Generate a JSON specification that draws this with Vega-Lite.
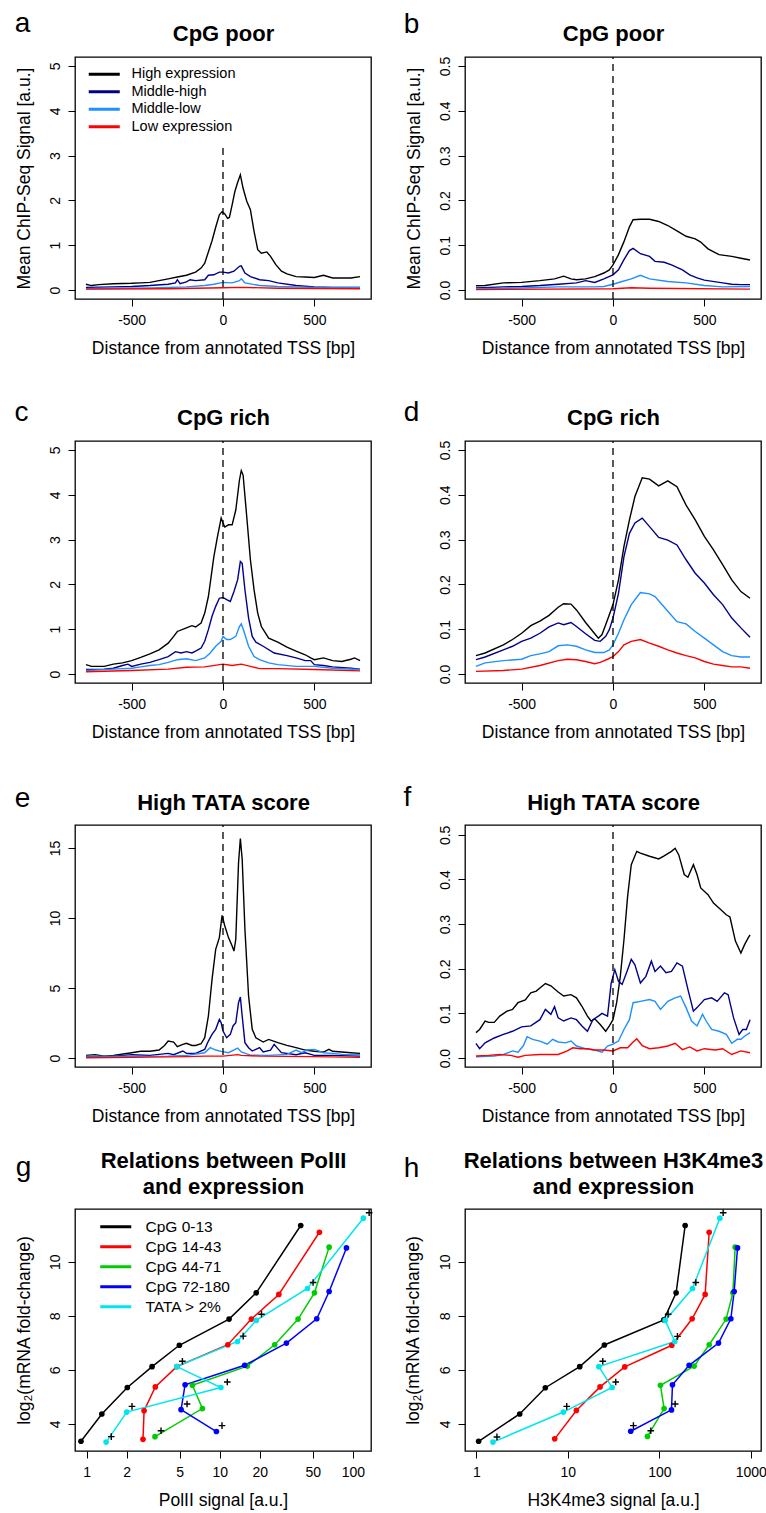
{
"$schema": "https://vega.github.io/schema/vega-lite/v6.json",
"padding": {"left": 13, "top": 8, "right": 0, "bottom": 0},
"config": {
 "font": "Liberation Sans",
 "view": {"stroke": "black", "strokeWidth": 1.3},
 "axis": {"domain": false, "grid": false, "tickColor": "black", "tickSize": 7, "tickWidth": 1, "labelColor": "black", "labelFontSize": 14, "labelFont": "Liberation Sans", "labelPadding": 7.5, "labelFlush": false, "labelOverlap": false, "labelBound": false, "titleColor": "black", "titleFont": "Liberation Sans", "titleFontSize": 17.5, "titleFontWeight": "normal"},
 "axisY": {"labelAngle": -90, "labelAlign": "center", "labelBaseline": "bottom", "labelPadding": 6},
 "legend": {"labelColor": "black", "labelFont": "Liberation Sans"}
},
"datasets": {
 "tss": [{"tss": 0}],
 "a": [
  {"s":"High expression","x":-750,"y":0.13},{"s":"High expression","x":-720,"y":0.1},{"s":"High expression","x":-680,"y":0.12},{"s":"High expression","x":-600,"y":0.14},{"s":"High expression","x":-500,"y":0.15},{"s":"High expression","x":-450,"y":0.16},{"s":"High expression","x":-400,"y":0.17},{"s":"High expression","x":-350,"y":0.21},{"s":"High expression","x":-300,"y":0.25},{"s":"High expression","x":-250,"y":0.29},{"s":"High expression","x":-200,"y":0.33},{"s":"High expression","x":-150,"y":0.4},{"s":"High expression","x":-120,"y":0.49},{"s":"High expression","x":-100,"y":0.6},{"s":"High expression","x":-80,"y":0.85},{"s":"High expression","x":-60,"y":1.1},{"s":"High expression","x":-40,"y":1.4},{"s":"High expression","x":-20,"y":1.68},{"s":"High expression","x":-5,"y":1.75},{"s":"High expression","x":10,"y":1.7},{"s":"High expression","x":25,"y":1.6},{"s":"High expression","x":35,"y":1.62},{"s":"High expression","x":50,"y":1.9},{"s":"High expression","x":65,"y":2.2},{"s":"High expression","x":80,"y":2.4},{"s":"High expression","x":95,"y":2.57},{"s":"High expression","x":110,"y":2.27},{"s":"High expression","x":130,"y":1.98},{"s":"High expression","x":150,"y":1.79},{"s":"High expression","x":170,"y":1.31},{"s":"High expression","x":190,"y":0.9},{"s":"High expression","x":210,"y":0.82},{"s":"High expression","x":240,"y":0.85},{"s":"High expression","x":260,"y":0.75},{"s":"High expression","x":290,"y":0.56},{"s":"High expression","x":320,"y":0.42},{"s":"High expression","x":350,"y":0.36},{"s":"High expression","x":400,"y":0.3},{"s":"High expression","x":450,"y":0.29},{"s":"High expression","x":500,"y":0.28},{"s":"High expression","x":550,"y":0.33},{"s":"High expression","x":600,"y":0.27},{"s":"High expression","x":650,"y":0.27},{"s":"High expression","x":700,"y":0.27},{"s":"High expression","x":750,"y":0.3},
  {"s":"Middle-high","x":-750,"y":0.06},{"s":"Middle-high","x":-600,"y":0.07},{"s":"Middle-high","x":-500,"y":0.08},{"s":"Middle-high","x":-400,"y":0.1},{"s":"Middle-high","x":-300,"y":0.13},{"s":"Middle-high","x":-260,"y":0.16},{"s":"Middle-high","x":-250,"y":0.23},{"s":"Middle-high","x":-235,"y":0.14},{"s":"Middle-high","x":-200,"y":0.18},{"s":"Middle-high","x":-180,"y":0.23},{"s":"Middle-high","x":-150,"y":0.21},{"s":"Middle-high","x":-100,"y":0.23},{"s":"Middle-high","x":-80,"y":0.33},{"s":"Middle-high","x":-50,"y":0.34},{"s":"Middle-high","x":-20,"y":0.4},{"s":"Middle-high","x":0,"y":0.4},{"s":"Middle-high","x":30,"y":0.38},{"s":"Middle-high","x":60,"y":0.42},{"s":"Middle-high","x":90,"y":0.53},{"s":"Middle-high","x":100,"y":0.54},{"s":"Middle-high","x":120,"y":0.38},{"s":"Middle-high","x":150,"y":0.3},{"s":"Middle-high","x":200,"y":0.23},{"s":"Middle-high","x":250,"y":0.21},{"s":"Middle-high","x":300,"y":0.16},{"s":"Middle-high","x":400,"y":0.1},{"s":"Middle-high","x":500,"y":0.07},{"s":"Middle-high","x":600,"y":0.06},{"s":"Middle-high","x":750,"y":0.06},
  {"s":"Middle-low","x":-750,"y":0.03},{"s":"Middle-low","x":-400,"y":0.045},{"s":"Middle-low","x":-200,"y":0.07},{"s":"Middle-low","x":-100,"y":0.1},{"s":"Middle-low","x":-50,"y":0.13},{"s":"Middle-low","x":0,"y":0.17},{"s":"Middle-low","x":50,"y":0.16},{"s":"Middle-low","x":90,"y":0.21},{"s":"Middle-low","x":100,"y":0.25},{"s":"Middle-low","x":120,"y":0.16},{"s":"Middle-low","x":200,"y":0.1},{"s":"Middle-low","x":300,"y":0.08},{"s":"Middle-low","x":500,"y":0.06},{"s":"Middle-low","x":750,"y":0.06},
  {"s":"Low expression","x":-750,"y":0.02},{"s":"Low expression","x":-300,"y":0.03},{"s":"Low expression","x":0,"y":0.05},{"s":"Low expression","x":100,"y":0.06},{"s":"Low expression","x":300,"y":0.04},{"s":"Low expression","x":750,"y":0.03}
 ],
 "b": [
  {"s":"High expression","x":-750,"y":0.0097},{"s":"High expression","x":-700,"y":0.01},{"s":"High expression","x":-600,"y":0.016},{"s":"High expression","x":-500,"y":0.017},{"s":"High expression","x":-400,"y":0.021},{"s":"High expression","x":-320,"y":0.025},{"s":"High expression","x":-270,"y":0.031},{"s":"High expression","x":-230,"y":0.025},{"s":"High expression","x":-200,"y":0.023},{"s":"High expression","x":-150,"y":0.025},{"s":"High expression","x":-100,"y":0.03},{"s":"High expression","x":-50,"y":0.038},{"s":"High expression","x":-20,"y":0.045},{"s":"High expression","x":0,"y":0.056},{"s":"High expression","x":30,"y":0.079},{"s":"High expression","x":60,"y":0.108},{"s":"High expression","x":90,"y":0.141},{"s":"High expression","x":110,"y":0.157},{"s":"High expression","x":150,"y":0.158},{"s":"High expression","x":200,"y":0.158},{"s":"High expression","x":250,"y":0.153},{"s":"High expression","x":300,"y":0.144},{"s":"High expression","x":350,"y":0.132},{"s":"High expression","x":400,"y":0.12},{"s":"High expression","x":450,"y":0.114},{"s":"High expression","x":480,"y":0.107},{"s":"High expression","x":520,"y":0.092},{"s":"High expression","x":580,"y":0.079},{"s":"High expression","x":650,"y":0.075},{"s":"High expression","x":700,"y":0.071},{"s":"High expression","x":750,"y":0.067},
  {"s":"Middle-high","x":-750,"y":0.0045},{"s":"Middle-high","x":-600,"y":0.007},{"s":"Middle-high","x":-500,"y":0.008},{"s":"Middle-high","x":-400,"y":0.01},{"s":"Middle-high","x":-300,"y":0.013},{"s":"Middle-high","x":-200,"y":0.016},{"s":"Middle-high","x":-150,"y":0.021},{"s":"Middle-high","x":-100,"y":0.017},{"s":"Middle-high","x":-50,"y":0.025},{"s":"Middle-high","x":0,"y":0.034},{"s":"Middle-high","x":30,"y":0.045},{"s":"Middle-high","x":60,"y":0.068},{"s":"Middle-high","x":90,"y":0.088},{"s":"Middle-high","x":110,"y":0.093},{"s":"Middle-high","x":150,"y":0.081},{"s":"Middle-high","x":200,"y":0.075},{"s":"Middle-high","x":230,"y":0.064},{"s":"Middle-high","x":280,"y":0.062},{"s":"Middle-high","x":320,"y":0.056},{"s":"Middle-high","x":380,"y":0.045},{"s":"Middle-high","x":420,"y":0.034},{"s":"Middle-high","x":460,"y":0.027},{"s":"Middle-high","x":500,"y":0.022},{"s":"Middle-high","x":600,"y":0.016},{"s":"Middle-high","x":650,"y":0.013},{"s":"Middle-high","x":700,"y":0.012},{"s":"Middle-high","x":750,"y":0.012},
  {"s":"Middle-low","x":-750,"y":0.003},{"s":"Middle-low","x":-500,"y":0.0045},{"s":"Middle-low","x":-300,"y":0.007},{"s":"Middle-low","x":-100,"y":0.007},{"s":"Middle-low","x":-50,"y":0.008},{"s":"Middle-low","x":0,"y":0.013},{"s":"Middle-low","x":50,"y":0.019},{"s":"Middle-low","x":100,"y":0.025},{"s":"Middle-low","x":150,"y":0.033},{"s":"Middle-low","x":200,"y":0.025},{"s":"Middle-low","x":300,"y":0.019},{"s":"Middle-low","x":400,"y":0.016},{"s":"Middle-low","x":500,"y":0.01},{"s":"Middle-low","x":600,"y":0.007},{"s":"Middle-low","x":750,"y":0.008},
  {"s":"Low expression","x":-750,"y":0.001},{"s":"Low expression","x":0,"y":0.003},{"s":"Low expression","x":100,"y":0.005},{"s":"Low expression","x":200,"y":0.004},{"s":"Low expression","x":750,"y":0.002}
 ],
 "c": [
  {"s":"High expression","x":-750,"y":0.21},{"s":"High expression","x":-720,"y":0.17},{"s":"High expression","x":-650,"y":0.17},{"s":"High expression","x":-600,"y":0.22},{"s":"High expression","x":-550,"y":0.25},{"s":"High expression","x":-500,"y":0.3},{"s":"High expression","x":-450,"y":0.37},{"s":"High expression","x":-400,"y":0.45},{"s":"High expression","x":-350,"y":0.54},{"s":"High expression","x":-300,"y":0.69},{"s":"High expression","x":-270,"y":0.84},{"s":"High expression","x":-250,"y":0.95},{"s":"High expression","x":-200,"y":1.03},{"s":"High expression","x":-170,"y":1.08},{"s":"High expression","x":-150,"y":1.05},{"s":"High expression","x":-120,"y":1.14},{"s":"High expression","x":-100,"y":1.36},{"s":"High expression","x":-80,"y":1.73},{"s":"High expression","x":-50,"y":2.62},{"s":"High expression","x":-30,"y":3.07},{"s":"High expression","x":-10,"y":3.48},{"s":"High expression","x":0,"y":3.37},{"s":"High expression","x":10,"y":3.28},{"s":"High expression","x":30,"y":3.33},{"s":"High expression","x":50,"y":3.33},{"s":"High expression","x":70,"y":3.66},{"s":"High expression","x":90,"y":4.33},{"s":"High expression","x":100,"y":4.54},{"s":"High expression","x":110,"y":4.44},{"s":"High expression","x":130,"y":3.51},{"s":"High expression","x":150,"y":2.55},{"s":"High expression","x":170,"y":1.88},{"s":"High expression","x":190,"y":1.36},{"s":"High expression","x":210,"y":1.06},{"s":"High expression","x":250,"y":0.8},{"s":"High expression","x":300,"y":0.71},{"s":"High expression","x":350,"y":0.6},{"s":"High expression","x":400,"y":0.51},{"s":"High expression","x":450,"y":0.43},{"s":"High expression","x":480,"y":0.36},{"s":"High expression","x":500,"y":0.32},{"s":"High expression","x":550,"y":0.36},{"s":"High expression","x":600,"y":0.3},{"s":"High expression","x":650,"y":0.28},{"s":"High expression","x":700,"y":0.33},{"s":"High expression","x":720,"y":0.36},{"s":"High expression","x":750,"y":0.3},
  {"s":"Middle-high","x":-750,"y":0.1},{"s":"Middle-high","x":-650,"y":0.11},{"s":"Middle-high","x":-600,"y":0.13},{"s":"Middle-high","x":-550,"y":0.19},{"s":"Middle-high","x":-520,"y":0.22},{"s":"Middle-high","x":-500,"y":0.17},{"s":"Middle-high","x":-450,"y":0.22},{"s":"Middle-high","x":-400,"y":0.26},{"s":"Middle-high","x":-350,"y":0.32},{"s":"Middle-high","x":-300,"y":0.39},{"s":"Middle-high","x":-260,"y":0.5},{"s":"Middle-high","x":-230,"y":0.47},{"s":"Middle-high","x":-200,"y":0.5},{"s":"Middle-high","x":-170,"y":0.47},{"s":"Middle-high","x":-150,"y":0.51},{"s":"Middle-high","x":-120,"y":0.58},{"s":"Middle-high","x":-100,"y":0.73},{"s":"Middle-high","x":-80,"y":0.99},{"s":"Middle-high","x":-60,"y":1.29},{"s":"Middle-high","x":-40,"y":1.51},{"s":"Middle-high","x":-20,"y":1.69},{"s":"Middle-high","x":0,"y":1.71},{"s":"Middle-high","x":20,"y":1.66},{"s":"Middle-high","x":40,"y":1.62},{"s":"Middle-high","x":60,"y":1.84},{"s":"Middle-high","x":80,"y":2.1},{"s":"Middle-high","x":95,"y":2.51},{"s":"Middle-high","x":105,"y":2.47},{"s":"Middle-high","x":120,"y":1.88},{"s":"Middle-high","x":140,"y":1.25},{"s":"Middle-high","x":160,"y":0.84},{"s":"Middle-high","x":180,"y":0.71},{"s":"Middle-high","x":220,"y":0.62},{"s":"Middle-high","x":280,"y":0.47},{"s":"Middle-high","x":350,"y":0.41},{"s":"Middle-high","x":400,"y":0.36},{"s":"Middle-high","x":450,"y":0.3},{"s":"Middle-high","x":480,"y":0.3},{"s":"Middle-high","x":500,"y":0.21},{"s":"Middle-high","x":550,"y":0.19},{"s":"Middle-high","x":600,"y":0.16},{"s":"Middle-high","x":700,"y":0.13},{"s":"Middle-high","x":750,"y":0.11},
  {"s":"Middle-low","x":-750,"y":0.08},{"s":"Middle-low","x":-600,"y":0.11},{"s":"Middle-low","x":-500,"y":0.13},{"s":"Middle-low","x":-450,"y":0.16},{"s":"Middle-low","x":-400,"y":0.19},{"s":"Middle-low","x":-350,"y":0.21},{"s":"Middle-low","x":-300,"y":0.26},{"s":"Middle-low","x":-250,"y":0.32},{"s":"Middle-low","x":-200,"y":0.34},{"s":"Middle-low","x":-150,"y":0.3},{"s":"Middle-low","x":-100,"y":0.36},{"s":"Middle-low","x":-70,"y":0.47},{"s":"Middle-low","x":-40,"y":0.62},{"s":"Middle-low","x":-10,"y":0.73},{"s":"Middle-low","x":0,"y":0.84},{"s":"Middle-low","x":20,"y":0.77},{"s":"Middle-low","x":40,"y":0.77},{"s":"Middle-low","x":70,"y":0.84},{"s":"Middle-low","x":90,"y":1.06},{"s":"Middle-low","x":100,"y":1.12},{"s":"Middle-low","x":115,"y":0.95},{"s":"Middle-low","x":140,"y":0.62},{"s":"Middle-low","x":170,"y":0.39},{"s":"Middle-low","x":200,"y":0.32},{"s":"Middle-low","x":250,"y":0.25},{"s":"Middle-low","x":300,"y":0.21},{"s":"Middle-low","x":400,"y":0.17},{"s":"Middle-low","x":500,"y":0.17},{"s":"Middle-low","x":600,"y":0.13},{"s":"Middle-low","x":750,"y":0.1},
  {"s":"Low expression","x":-750,"y":0.05},{"s":"Low expression","x":-500,"y":0.08},{"s":"Low expression","x":-300,"y":0.11},{"s":"Low expression","x":-200,"y":0.15},{"s":"Low expression","x":-100,"y":0.16},{"s":"Low expression","x":0,"y":0.22},{"s":"Low expression","x":50,"y":0.19},{"s":"Low expression","x":100,"y":0.22},{"s":"Low expression","x":150,"y":0.17},{"s":"Low expression","x":200,"y":0.12},{"s":"Low expression","x":300,"y":0.12},{"s":"Low expression","x":500,"y":0.1},{"s":"Low expression","x":750,"y":0.07}
 ],
 "d": [
  {"s":"High expression","x":-750,"y":0.041},{"s":"High expression","x":-700,"y":0.047},{"s":"High expression","x":-600,"y":0.065},{"s":"High expression","x":-550,"y":0.077},{"s":"High expression","x":-500,"y":0.091},{"s":"High expression","x":-450,"y":0.108},{"s":"High expression","x":-400,"y":0.118},{"s":"High expression","x":-350,"y":0.131},{"s":"High expression","x":-300,"y":0.149},{"s":"High expression","x":-270,"y":0.157},{"s":"High expression","x":-230,"y":0.156},{"s":"High expression","x":-200,"y":0.143},{"s":"High expression","x":-150,"y":0.115},{"s":"High expression","x":-100,"y":0.09},{"s":"High expression","x":-80,"y":0.08},{"s":"High expression","x":-60,"y":0.088},{"s":"High expression","x":-30,"y":0.121},{"s":"High expression","x":0,"y":0.155},{"s":"High expression","x":30,"y":0.21},{"s":"High expression","x":60,"y":0.285},{"s":"High expression","x":90,"y":0.344},{"s":"High expression","x":120,"y":0.396},{"s":"High expression","x":160,"y":0.438},{"s":"High expression","x":200,"y":0.435},{"s":"High expression","x":250,"y":0.42},{"s":"High expression","x":300,"y":0.431},{"s":"High expression","x":350,"y":0.418},{"s":"High expression","x":400,"y":0.377},{"s":"High expression","x":450,"y":0.344},{"s":"High expression","x":500,"y":0.307},{"s":"High expression","x":550,"y":0.277},{"s":"High expression","x":600,"y":0.244},{"s":"High expression","x":650,"y":0.21},{"s":"High expression","x":700,"y":0.184},{"s":"High expression","x":750,"y":0.169},
  {"s":"Middle-high","x":-750,"y":0.032},{"s":"Middle-high","x":-700,"y":0.038},{"s":"Middle-high","x":-600,"y":0.054},{"s":"Middle-high","x":-550,"y":0.062},{"s":"Middle-high","x":-500,"y":0.073},{"s":"Middle-high","x":-450,"y":0.08},{"s":"Middle-high","x":-400,"y":0.091},{"s":"Middle-high","x":-350,"y":0.105},{"s":"Middle-high","x":-300,"y":0.114},{"s":"Middle-high","x":-270,"y":0.11},{"s":"Middle-high","x":-230,"y":0.115},{"s":"Middle-high","x":-200,"y":0.106},{"s":"Middle-high","x":-150,"y":0.09},{"s":"Middle-high","x":-100,"y":0.075},{"s":"Middle-high","x":-70,"y":0.073},{"s":"Middle-high","x":-40,"y":0.084},{"s":"Middle-high","x":-20,"y":0.099},{"s":"Middle-high","x":0,"y":0.125},{"s":"Middle-high","x":30,"y":0.18},{"s":"Middle-high","x":60,"y":0.262},{"s":"Middle-high","x":90,"y":0.314},{"s":"Middle-high","x":120,"y":0.337},{"s":"Middle-high","x":160,"y":0.348},{"s":"Middle-high","x":200,"y":0.329},{"s":"Middle-high","x":250,"y":0.305},{"s":"Middle-high","x":300,"y":0.299},{"s":"Middle-high","x":350,"y":0.288},{"s":"Middle-high","x":400,"y":0.255},{"s":"Middle-high","x":450,"y":0.225},{"s":"Middle-high","x":500,"y":0.203},{"s":"Middle-high","x":550,"y":0.177},{"s":"Middle-high","x":600,"y":0.155},{"s":"Middle-high","x":650,"y":0.125},{"s":"Middle-high","x":700,"y":0.103},{"s":"Middle-high","x":750,"y":0.082},
  {"s":"Middle-low","x":-750,"y":0.017},{"s":"Middle-low","x":-700,"y":0.025},{"s":"Middle-low","x":-600,"y":0.03},{"s":"Middle-low","x":-500,"y":0.033},{"s":"Middle-low","x":-450,"y":0.041},{"s":"Middle-low","x":-400,"y":0.045},{"s":"Middle-low","x":-350,"y":0.05},{"s":"Middle-low","x":-300,"y":0.063},{"s":"Middle-low","x":-250,"y":0.065},{"s":"Middle-low","x":-200,"y":0.062},{"s":"Middle-low","x":-150,"y":0.054},{"s":"Middle-low","x":-100,"y":0.048},{"s":"Middle-low","x":-50,"y":0.048},{"s":"Middle-low","x":-20,"y":0.054},{"s":"Middle-low","x":0,"y":0.065},{"s":"Middle-low","x":30,"y":0.091},{"s":"Middle-low","x":60,"y":0.121},{"s":"Middle-low","x":100,"y":0.155},{"s":"Middle-low","x":150,"y":0.182},{"s":"Middle-low","x":200,"y":0.179},{"s":"Middle-low","x":230,"y":0.173},{"s":"Middle-low","x":300,"y":0.14},{"s":"Middle-low","x":350,"y":0.117},{"s":"Middle-low","x":400,"y":0.112},{"s":"Middle-low","x":450,"y":0.095},{"s":"Middle-low","x":500,"y":0.08},{"s":"Middle-low","x":550,"y":0.065},{"s":"Middle-low","x":600,"y":0.05},{"s":"Middle-low","x":650,"y":0.041},{"s":"Middle-low","x":700,"y":0.038},{"s":"Middle-low","x":750,"y":0.038},
  {"s":"Low expression","x":-750,"y":0.006},{"s":"Low expression","x":-600,"y":0.008},{"s":"Low expression","x":-500,"y":0.011},{"s":"Low expression","x":-400,"y":0.019},{"s":"Low expression","x":-300,"y":0.03},{"s":"Low expression","x":-250,"y":0.033},{"s":"Low expression","x":-200,"y":0.032},{"s":"Low expression","x":-150,"y":0.028},{"s":"Low expression","x":-100,"y":0.023},{"s":"Low expression","x":-70,"y":0.026},{"s":"Low expression","x":-30,"y":0.033},{"s":"Low expression","x":0,"y":0.039},{"s":"Low expression","x":30,"y":0.05},{"s":"Low expression","x":60,"y":0.065},{"s":"Low expression","x":100,"y":0.073},{"s":"Low expression","x":150,"y":0.077},{"s":"Low expression","x":200,"y":0.069},{"s":"Low expression","x":250,"y":0.062},{"s":"Low expression","x":300,"y":0.054},{"s":"Low expression","x":350,"y":0.047},{"s":"Low expression","x":400,"y":0.041},{"s":"Low expression","x":450,"y":0.036},{"s":"Low expression","x":500,"y":0.028},{"s":"Low expression","x":550,"y":0.022},{"s":"Low expression","x":600,"y":0.019},{"s":"Low expression","x":650,"y":0.016},{"s":"Low expression","x":700,"y":0.016},{"s":"Low expression","x":750,"y":0.013}
 ],
 "e": [
  {"s":"High expression","x":-750,"y":0.19},{"s":"High expression","x":-700,"y":0.24},{"s":"High expression","x":-650,"y":0.14},{"s":"High expression","x":-600,"y":0.19},{"s":"High expression","x":-500,"y":0.38},{"s":"High expression","x":-450,"y":0.48},{"s":"High expression","x":-400,"y":0.48},{"s":"High expression","x":-350,"y":0.57},{"s":"High expression","x":-320,"y":0.9},{"s":"High expression","x":-300,"y":1.21},{"s":"High expression","x":-270,"y":1.14},{"s":"High expression","x":-250,"y":0.81},{"s":"High expression","x":-220,"y":0.98},{"s":"High expression","x":-200,"y":1.05},{"s":"High expression","x":-170,"y":0.9},{"s":"High expression","x":-150,"y":0.9},{"s":"High expression","x":-120,"y":1.02},{"s":"High expression","x":-100,"y":1.45},{"s":"High expression","x":-80,"y":3.0},{"s":"High expression","x":-60,"y":5.62},{"s":"High expression","x":-40,"y":7.76},{"s":"High expression","x":-20,"y":8.6},{"s":"High expression","x":-5,"y":10.19},{"s":"High expression","x":10,"y":9.43},{"s":"High expression","x":30,"y":8.6},{"s":"High expression","x":50,"y":8.0},{"s":"High expression","x":60,"y":7.64},{"s":"High expression","x":70,"y":8.48},{"s":"High expression","x":85,"y":13.95},{"s":"High expression","x":95,"y":15.67},{"s":"High expression","x":105,"y":14.19},{"s":"High expression","x":120,"y":9.19},{"s":"High expression","x":140,"y":4.43},{"s":"High expression","x":160,"y":2.05},{"s":"High expression","x":180,"y":1.45},{"s":"High expression","x":220,"y":1.14},{"s":"High expression","x":250,"y":1.33},{"s":"High expression","x":300,"y":1.1},{"s":"High expression","x":350,"y":0.9},{"s":"High expression","x":400,"y":0.74},{"s":"High expression","x":450,"y":0.57},{"s":"High expression","x":500,"y":0.48},{"s":"High expression","x":550,"y":0.43},{"s":"High expression","x":580,"y":0.62},{"s":"High expression","x":600,"y":0.48},{"s":"High expression","x":700,"y":0.38},{"s":"High expression","x":750,"y":0.33},
  {"s":"Middle-high","x":-750,"y":0.1},{"s":"Middle-high","x":-600,"y":0.14},{"s":"Middle-high","x":-500,"y":0.24},{"s":"Middle-high","x":-400,"y":0.19},{"s":"Middle-high","x":-300,"y":0.33},{"s":"Middle-high","x":-270,"y":0.24},{"s":"Middle-high","x":-220,"y":0.5},{"s":"Middle-high","x":-200,"y":0.33},{"s":"Middle-high","x":-150,"y":0.33},{"s":"Middle-high","x":-100,"y":0.62},{"s":"Middle-high","x":-80,"y":1.21},{"s":"Middle-high","x":-60,"y":1.69},{"s":"Middle-high","x":-40,"y":2.05},{"s":"Middle-high","x":-20,"y":2.76},{"s":"Middle-high","x":-10,"y":2.52},{"s":"Middle-high","x":0,"y":1.93},{"s":"Middle-high","x":20,"y":1.45},{"s":"Middle-high","x":40,"y":1.69},{"s":"Middle-high","x":55,"y":2.29},{"s":"Middle-high","x":70,"y":2.52},{"s":"Middle-high","x":85,"y":3.95},{"s":"Middle-high","x":95,"y":4.36},{"s":"Middle-high","x":105,"y":3.0},{"s":"Middle-high","x":120,"y":1.1},{"s":"Middle-high","x":140,"y":0.74},{"s":"Middle-high","x":160,"y":0.5},{"s":"Middle-high","x":200,"y":0.74},{"s":"Middle-high","x":220,"y":0.43},{"s":"Middle-high","x":260,"y":0.57},{"s":"Middle-high","x":280,"y":0.98},{"s":"Middle-high","x":300,"y":0.67},{"s":"Middle-high","x":320,"y":0.38},{"s":"Middle-high","x":400,"y":0.24},{"s":"Middle-high","x":450,"y":0.38},{"s":"Middle-high","x":500,"y":0.19},{"s":"Middle-high","x":600,"y":0.19},{"s":"Middle-high","x":750,"y":0.14},
  {"s":"Middle-low","x":-750,"y":0.14},{"s":"Middle-low","x":-500,"y":0.12},{"s":"Middle-low","x":-300,"y":0.14},{"s":"Middle-low","x":-200,"y":0.19},{"s":"Middle-low","x":-100,"y":0.38},{"s":"Middle-low","x":-70,"y":0.74},{"s":"Middle-low","x":-40,"y":0.57},{"s":"Middle-low","x":-10,"y":0.48},{"s":"Middle-low","x":30,"y":0.38},{"s":"Middle-low","x":80,"y":0.71},{"s":"Middle-low","x":100,"y":0.43},{"s":"Middle-low","x":150,"y":0.21},{"s":"Middle-low","x":250,"y":0.19},{"s":"Middle-low","x":350,"y":0.26},{"s":"Middle-low","x":400,"y":0.57},{"s":"Middle-low","x":430,"y":0.38},{"s":"Middle-low","x":460,"y":0.57},{"s":"Middle-low","x":500,"y":0.62},{"s":"Middle-low","x":550,"y":0.38},{"s":"Middle-low","x":600,"y":0.33},{"s":"Middle-low","x":650,"y":0.26},{"s":"Middle-low","x":750,"y":0.24},
  {"s":"Low expression","x":-750,"y":0.02},{"s":"Low expression","x":-500,"y":0.05},{"s":"Low expression","x":-200,"y":0.1},{"s":"Low expression","x":-100,"y":0.14},{"s":"Low expression","x":0,"y":0.14},{"s":"Low expression","x":80,"y":0.24},{"s":"Low expression","x":100,"y":0.19},{"s":"Low expression","x":200,"y":0.14},{"s":"Low expression","x":500,"y":0.1},{"s":"Low expression","x":750,"y":0.05}
 ],
 "f": [
  {"s":"High expression","x":-750,"y":0.057},{"s":"High expression","x":-730,"y":0.064},{"s":"High expression","x":-700,"y":0.083},{"s":"High expression","x":-680,"y":0.08},{"s":"High expression","x":-650,"y":0.08},{"s":"High expression","x":-620,"y":0.094},{"s":"High expression","x":-580,"y":0.105},{"s":"High expression","x":-550,"y":0.109},{"s":"High expression","x":-520,"y":0.124},{"s":"High expression","x":-480,"y":0.13},{"s":"High expression","x":-450,"y":0.146},{"s":"High expression","x":-420,"y":0.15},{"s":"High expression","x":-400,"y":0.157},{"s":"High expression","x":-370,"y":0.167},{"s":"High expression","x":-340,"y":0.162},{"s":"High expression","x":-300,"y":0.148},{"s":"High expression","x":-270,"y":0.139},{"s":"High expression","x":-230,"y":0.142},{"s":"High expression","x":-200,"y":0.135},{"s":"High expression","x":-170,"y":0.116},{"s":"High expression","x":-140,"y":0.094},{"s":"High expression","x":-120,"y":0.083},{"s":"High expression","x":-100,"y":0.088},{"s":"High expression","x":-70,"y":0.075},{"s":"High expression","x":-40,"y":0.06},{"s":"High expression","x":-20,"y":0.072},{"s":"High expression","x":0,"y":0.086},{"s":"High expression","x":20,"y":0.124},{"s":"High expression","x":40,"y":0.183},{"s":"High expression","x":60,"y":0.265},{"s":"High expression","x":80,"y":0.362},{"s":"High expression","x":100,"y":0.433},{"s":"High expression","x":130,"y":0.463},{"s":"High expression","x":150,"y":0.459},{"s":"High expression","x":200,"y":0.452},{"s":"High expression","x":250,"y":0.446},{"s":"High expression","x":280,"y":0.453},{"s":"High expression","x":320,"y":0.463},{"s":"High expression","x":340,"y":0.47},{"s":"High expression","x":360,"y":0.455},{"s":"High expression","x":390,"y":0.411},{"s":"High expression","x":410,"y":0.405},{"s":"High expression","x":440,"y":0.433},{"s":"High expression","x":460,"y":0.411},{"s":"High expression","x":480,"y":0.381},{"s":"High expression","x":520,"y":0.366},{"s":"High expression","x":550,"y":0.347},{"s":"High expression","x":580,"y":0.336},{"s":"High expression","x":620,"y":0.321},{"s":"High expression","x":640,"y":0.316},{"s":"High expression","x":670,"y":0.262},{"s":"High expression","x":700,"y":0.235},{"s":"High expression","x":720,"y":0.254},{"s":"High expression","x":740,"y":0.269},{"s":"High expression","x":750,"y":0.276},
  {"s":"Middle-high","x":-750,"y":0.033},{"s":"Middle-high","x":-730,"y":0.021},{"s":"Middle-high","x":-700,"y":0.034},{"s":"Middle-high","x":-650,"y":0.045},{"s":"Middle-high","x":-600,"y":0.053},{"s":"Middle-high","x":-550,"y":0.06},{"s":"Middle-high","x":-500,"y":0.07},{"s":"Middle-high","x":-450,"y":0.072},{"s":"Middle-high","x":-400,"y":0.086},{"s":"Middle-high","x":-370,"y":0.109},{"s":"Middle-high","x":-340,"y":0.098},{"s":"Middle-high","x":-320,"y":0.115},{"s":"Middle-high","x":-300,"y":0.09},{"s":"Middle-high","x":-270,"y":0.083},{"s":"Middle-high","x":-230,"y":0.09},{"s":"Middle-high","x":-200,"y":0.086},{"s":"Middle-high","x":-170,"y":0.072},{"s":"Middle-high","x":-140,"y":0.06},{"s":"Middle-high","x":-110,"y":0.086},{"s":"Middle-high","x":-80,"y":0.094},{"s":"Middle-high","x":-60,"y":0.1},{"s":"Middle-high","x":-30,"y":0.094},{"s":"Middle-high","x":-10,"y":0.168},{"s":"Middle-high","x":10,"y":0.198},{"s":"Middle-high","x":30,"y":0.172},{"s":"Middle-high","x":50,"y":0.165},{"s":"Middle-high","x":80,"y":0.198},{"s":"Middle-high","x":100,"y":0.221},{"s":"Middle-high","x":120,"y":0.209},{"s":"Middle-high","x":150,"y":0.168},{"s":"Middle-high","x":180,"y":0.183},{"s":"Middle-high","x":210,"y":0.217},{"s":"Middle-high","x":230,"y":0.194},{"s":"Middle-high","x":260,"y":0.206},{"s":"Middle-high","x":290,"y":0.191},{"s":"Middle-high","x":320,"y":0.194},{"s":"Middle-high","x":350,"y":0.213},{"s":"Middle-high","x":380,"y":0.206},{"s":"Middle-high","x":410,"y":0.154},{"s":"Middle-high","x":440,"y":0.105},{"s":"Middle-high","x":460,"y":0.113},{"s":"Middle-high","x":500,"y":0.131},{"s":"Middle-high","x":540,"y":0.135},{"s":"Middle-high","x":570,"y":0.127},{"s":"Middle-high","x":610,"y":0.146},{"s":"Middle-high","x":630,"y":0.142},{"s":"Middle-high","x":660,"y":0.09},{"s":"Middle-high","x":690,"y":0.053},{"s":"Middle-high","x":710,"y":0.064},{"s":"Middle-high","x":730,"y":0.064},{"s":"Middle-high","x":750,"y":0.086},
  {"s":"Middle-low","x":-750,"y":0.003},{"s":"Middle-low","x":-650,"y":0.0045},{"s":"Middle-low","x":-600,"y":0.008},{"s":"Middle-low","x":-550,"y":0.016},{"s":"Middle-low","x":-520,"y":0.013},{"s":"Middle-low","x":-490,"y":0.028},{"s":"Middle-low","x":-470,"y":0.048},{"s":"Middle-low","x":-440,"y":0.042},{"s":"Middle-low","x":-400,"y":0.038},{"s":"Middle-low","x":-360,"y":0.031},{"s":"Middle-low","x":-330,"y":0.042},{"s":"Middle-low","x":-300,"y":0.036},{"s":"Middle-low","x":-260,"y":0.034},{"s":"Middle-low","x":-230,"y":0.038},{"s":"Middle-low","x":-200,"y":0.027},{"s":"Middle-low","x":-150,"y":0.021},{"s":"Middle-low","x":-100,"y":0.018},{"s":"Middle-low","x":-60,"y":0.013},{"s":"Middle-low","x":-30,"y":0.027},{"s":"Middle-low","x":0,"y":0.031},{"s":"Middle-low","x":30,"y":0.038},{"s":"Middle-low","x":60,"y":0.064},{"s":"Middle-low","x":90,"y":0.086},{"s":"Middle-low","x":110,"y":0.124},{"s":"Middle-low","x":150,"y":0.127},{"s":"Middle-low","x":200,"y":0.131},{"s":"Middle-low","x":230,"y":0.127},{"s":"Middle-low","x":260,"y":0.109},{"s":"Middle-low","x":300,"y":0.127},{"s":"Middle-low","x":340,"y":0.135},{"s":"Middle-low","x":370,"y":0.139},{"s":"Middle-low","x":400,"y":0.113},{"s":"Middle-low","x":430,"y":0.083},{"s":"Middle-low","x":460,"y":0.072},{"s":"Middle-low","x":490,"y":0.098},{"s":"Middle-low","x":510,"y":0.083},{"s":"Middle-low","x":540,"y":0.064},{"s":"Middle-low","x":580,"y":0.06},{"s":"Middle-low","x":620,"y":0.053},{"s":"Middle-low","x":650,"y":0.033},{"s":"Middle-low","x":680,"y":0.042},{"s":"Middle-low","x":700,"y":0.042},{"s":"Middle-low","x":720,"y":0.049},{"s":"Middle-low","x":750,"y":0.057},
  {"s":"Low expression","x":-750,"y":0.0045},{"s":"Low expression","x":-680,"y":0.006},{"s":"Low expression","x":-620,"y":0.008},{"s":"Low expression","x":-560,"y":0.006},{"s":"Low expression","x":-520,"y":0.002},{"s":"Low expression","x":-480,"y":0.006},{"s":"Low expression","x":-400,"y":0.008},{"s":"Low expression","x":-300,"y":0.008},{"s":"Low expression","x":-250,"y":0.016},{"s":"Low expression","x":-220,"y":0.023},{"s":"Low expression","x":-180,"y":0.021},{"s":"Low expression","x":-140,"y":0.021},{"s":"Low expression","x":-100,"y":0.018},{"s":"Low expression","x":-50,"y":0.018},{"s":"Low expression","x":0,"y":0.016},{"s":"Low expression","x":40,"y":0.023},{"s":"Low expression","x":80,"y":0.023},{"s":"Low expression","x":110,"y":0.036},{"s":"Low expression","x":130,"y":0.043},{"s":"Low expression","x":160,"y":0.028},{"s":"Low expression","x":200,"y":0.021},{"s":"Low expression","x":250,"y":0.023},{"s":"Low expression","x":300,"y":0.027},{"s":"Low expression","x":340,"y":0.033},{"s":"Low expression","x":380,"y":0.019},{"s":"Low expression","x":420,"y":0.025},{"s":"Low expression","x":460,"y":0.016},{"s":"Low expression","x":500,"y":0.021},{"s":"Low expression","x":560,"y":0.018},{"s":"Low expression","x":600,"y":0.021},{"s":"Low expression","x":650,"y":0.008},{"s":"Low expression","x":700,"y":0.016},{"s":"Low expression","x":750,"y":0.012}
 ],
 "g": [
  {"s":"CpG 0-13","x":0.906,"y":3.36},{"s":"CpG 0-13","x":1.3,"y":4.37},{"s":"CpG 0-13","x":2.02,"y":5.35},{"s":"CpG 0-13","x":3.1,"y":6.12},{"s":"CpG 0-13","x":4.97,"y":6.91},{"s":"CpG 0-13","x":11.75,"y":7.88},{"s":"CpG 0-13","x":18.8,"y":8.85},{"s":"CpG 0-13","x":40.6,"y":11.34},
  {"s":"CpG 14-43","x":2.65,"y":3.43},{"s":"CpG 14-43","x":2.7,"y":4.49},{"s":"CpG 14-43","x":3.28,"y":5.37},{"s":"CpG 14-43","x":4.75,"y":6.12},{"s":"CpG 14-43","x":11.5,"y":6.93},{"s":"CpG 14-43","x":17.3,"y":7.88},{"s":"CpG 14-43","x":27.8,"y":8.79},{"s":"CpG 14-43","x":56.1,"y":11.09},
  {"s":"CpG 44-71","x":3.26,"y":3.53},{"s":"CpG 44-71","x":7.41,"y":4.57},{"s":"CpG 44-71","x":6.23,"y":5.43},{"s":"CpG 44-71","x":16.1,"y":6.14},{"s":"CpG 44-71","x":25.9,"y":6.93},{"s":"CpG 44-71","x":38.8,"y":7.88},{"s":"CpG 44-71","x":51.5,"y":8.85},{"s":"CpG 44-71","x":66.4,"y":10.54},
  {"s":"CpG 72-180","x":9.44,"y":3.72},{"s":"CpG 72-180","x":5.12,"y":4.53},{"s":"CpG 72-180","x":5.49,"y":5.45},{"s":"CpG 72-180","x":15.4,"y":6.17},{"s":"CpG 72-180","x":31.7,"y":6.99},{"s":"CpG 72-180","x":53.6,"y":7.89},{"s":"CpG 72-180","x":66.4,"y":8.9},{"s":"CpG 72-180","x":89.6,"y":10.51},
  {"s":"TATA > 2%","x":1.4,"y":3.33},{"s":"TATA > 2%","x":2.0,"y":4.44},{"s":"TATA > 2%","x":10.2,"y":5.35},{"s":"TATA > 2%","x":4.75,"y":6.12},{"s":"TATA > 2%","x":13.6,"y":7.05},{"s":"TATA > 2%","x":18.8,"y":7.83},{"s":"TATA > 2%","x":45.6,"y":9.01},{"s":"TATA > 2%","x":120,"y":11.61}
 ],
 "gplus": [
  {"x":1.53,"y":3.53},{"x":2.19,"y":4.65},{"x":11.4,"y":5.55},{"x":5.24,"y":6.32},{"x":15.0,"y":7.25},{"x":20.6,"y":8.06},{"x":50.3,"y":9.23},{"x":132.7,"y":11.81},{"x":3.62,"y":3.75},{"x":5.68,"y":4.74},{"x":10.4,"y":3.94}
 ],
 "h": [
  {"s":"CpG 0-13","x":1.06,"y":3.36},{"s":"CpG 0-13","x":2.98,"y":4.37},{"s":"CpG 0-13","x":5.68,"y":5.34},{"s":"CpG 0-13","x":13.5,"y":6.12},{"s":"CpG 0-13","x":25.1,"y":6.92},{"s":"CpG 0-13","x":112,"y":7.85},{"s":"CpG 0-13","x":152.6,"y":8.85},{"s":"CpG 0-13","x":191.5,"y":11.34},
  {"s":"CpG 14-43","x":7.19,"y":3.45},{"s":"CpG 14-43","x":12.4,"y":4.5},{"s":"CpG 14-43","x":22.5,"y":5.37},{"s":"CpG 14-43","x":41.9,"y":6.11},{"s":"CpG 14-43","x":136.9,"y":6.91},{"s":"CpG 14-43","x":228.5,"y":7.89},{"s":"CpG 14-43","x":316.7,"y":8.79},{"s":"CpG 14-43","x":350.6,"y":11.09},
  {"s":"CpG 44-71","x":74.2,"y":3.54},{"s":"CpG 44-71","x":112.8,"y":4.57},{"s":"CpG 44-71","x":102.9,"y":5.43},{"s":"CpG 44-71","x":240.2,"y":6.14},{"s":"CpG 44-71","x":350.6,"y":6.93},{"s":"CpG 44-71","x":537.9,"y":7.88},{"s":"CpG 44-71","x":636.5,"y":8.85},{"s":"CpG 44-71","x":674.5,"y":10.54},
  {"s":"CpG 72-180","x":48.7,"y":3.73},{"s":"CpG 72-180","x":135.8,"y":4.52},{"s":"CpG 72-180","x":139.2,"y":5.45},{"s":"CpG 72-180","x":211.8,"y":6.17},{"s":"CpG 72-180","x":443.6,"y":6.99},{"s":"CpG 72-180","x":605,"y":7.89},{"s":"CpG 72-180","x":657.7,"y":8.9},{"s":"CpG 72-180","x":715.6,"y":10.51},
  {"s":"TATA > 2%","x":1.52,"y":3.33},{"s":"TATA > 2%","x":8.95,"y":4.44},{"s":"TATA > 2%","x":30.5,"y":5.35},{"s":"TATA > 2%","x":21.8,"y":6.12},{"s":"TATA > 2%","x":147.6,"y":7.05},{"s":"TATA > 2%","x":115.7,"y":7.83},{"s":"TATA > 2%","x":230.3,"y":9.01},{"s":"TATA > 2%","x":458.6,"y":11.61}
 ],
 "hplus": [
  {"x":1.68,"y":3.52},{"x":9.73,"y":4.65},{"x":33.4,"y":5.55},{"x":24.1,"y":6.32},{"x":157.9,"y":7.24},{"x":124.8,"y":8.06},{"x":250.5,"y":9.23},{"x":498.8,"y":11.81},{"x":52.1,"y":3.94},{"x":80.7,"y":3.75},{"x":148.9,"y":4.74}
 ]
},
"columns": 2,
"spacing": {"row": 142, "column": 94},
"bounds": "flush",
"resolve": {"scale": {"x": "independent", "y": "independent", "color": "independent"}},
"concat": [
 {"width": 296, "height": 242,
  "layer": [
   {"data": {"name": "a"}, "mark": {"type": "line", "strokeWidth": 1.4},
    "encoding": {
     "x": {"field": "x", "type": "quantitative", "scale": {"domain": [-810, 810], "nice": false, "zero": false}, "axis": {"values": [-500, 0, 500], "labelExpr": "'' + datum.value", "title": "Distance from annotated TSS [bp]", "titleX": 148, "titleY": 54.5, "titleBaseline": "alphabetic", "titleAlign": "center"}},
     "y": {"field": "y", "type": "quantitative", "scale": {"domain": [-0.2, 5.2], "nice": false, "zero": false}, "axis": {"values": [0, 1, 2, 3, 4, 5], "title": "Mean ChIP-Seq Signal [a.u.]", "titleX": -46, "titleY": 121, "titleAngle": -90, "titleBaseline": "alphabetic", "titleAlign": "center"}},
     "color": {"field": "s", "type": "nominal", "scale": {"domain": ["High expression", "Middle-high", "Middle-low", "Low expression"], "range": ["#000000", "#00008B", "#1E90FF", "#FF0000"]},
      "legend": {"orient": "none", "legendX": 22, "legendY": 10, "title": null, "symbolType": "M-3,0H3", "symbolSize": 107, "symbolStrokeWidth": 3, "labelFontSize": 14.5, "labelOffset": 20, "rowPadding": 2.5, "padding": 0}}
    }},
   {"data": {"name": "tss"}, "mark": {"type": "rule", "strokeDash": [7, 5], "strokeWidth": 1.3, "color": "black"},
    "encoding": {
     "x": {"field": "tss", "type": "quantitative", "scale": {"domain": [-810, 810], "nice": false, "zero": false}, "axis": {"orient": "top", "labels": false, "ticks": false, "domain": false, "title": "CpG poor", "titleX": 148, "titleY": -17, "titleFontSize": 22, "titleFontWeight": "bold", "titleBaseline": "alphabetic", "titleAlign": "center", "titleAngle": 0}},
     "y": {"datum": -0.2, "axis": {"orient": "right", "labels": false, "ticks": false, "domain": false, "title": "a", "titleX": -349, "titleY": -26, "titleFontSize": 28, "titleFontWeight": "normal", "titleBaseline": "alphabetic", "titleAlign": "center", "titleAngle": 0}},
     "y2": {"datum": 3.2}
    }}
  ],
  "resolve": {"axis": {"x": "independent", "y": "independent"}}
 },
 {"width": 296, "height": 242,
  "layer": [
   {"data": {"name": "b"}, "mark": {"type": "line", "strokeWidth": 1.4},
    "encoding": {
     "x": {"field": "x", "type": "quantitative", "scale": {"domain": [-810, 810], "nice": false, "zero": false}, "axis": {"values": [-500, 0, 500], "labelExpr": "'' + datum.value", "title": "Distance from annotated TSS [bp]", "titleX": 148, "titleY": 54.5, "titleBaseline": "alphabetic", "titleAlign": "center"}},
     "y": {"field": "y", "type": "quantitative", "scale": {"domain": [-0.02, 0.52], "nice": false, "zero": false}, "axis": {"values": [0, 0.1, 0.2, 0.3, 0.4, 0.5], "format": ".1f", "title": "Mean ChIP-Seq Signal [a.u.]", "titleX": -46, "titleY": 121, "titleAngle": -90, "titleBaseline": "alphabetic", "titleAlign": "center"}},
     "color": {"field": "s", "type": "nominal", "scale": {"domain": ["High expression", "Middle-high", "Middle-low", "Low expression"], "range": ["#000000", "#00008B", "#1E90FF", "#FF0000"]}, "legend": null}
    }},
   {"data": {"name": "tss"}, "mark": {"type": "rule", "strokeDash": [7, 5], "strokeWidth": 1.3, "color": "black"},
    "encoding": {
     "x": {"field": "tss", "type": "quantitative", "scale": {"domain": [-810, 810], "nice": false, "zero": false}, "axis": {"orient": "top", "labels": false, "ticks": false, "domain": false, "title": "CpG poor", "titleX": 148, "titleY": -17, "titleFontSize": 22, "titleFontWeight": "bold", "titleBaseline": "alphabetic", "titleAlign": "center", "titleAngle": 0}},
     "y": {"datum": -0.02, "axis": {"orient": "right", "labels": false, "ticks": false, "domain": false, "title": "b", "titleX": -350, "titleY": -25, "titleFontSize": 28, "titleFontWeight": "normal", "titleBaseline": "alphabetic", "titleAlign": "center", "titleAngle": 0}},
     "y2": {"datum": 0.52}
    }}
  ],
  "resolve": {"axis": {"x": "independent", "y": "independent"}}
 },
 {"width": 296, "height": 242,
  "layer": [
   {"data": {"name": "c"}, "mark": {"type": "line", "strokeWidth": 1.4},
    "encoding": {
     "x": {"field": "x", "type": "quantitative", "scale": {"domain": [-810, 810], "nice": false, "zero": false}, "axis": {"values": [-500, 0, 500], "labelExpr": "'' + datum.value", "title": "Distance from annotated TSS [bp]", "titleX": 148, "titleY": 54.5, "titleBaseline": "alphabetic", "titleAlign": "center"}},
     "y": {"field": "y", "type": "quantitative", "scale": {"domain": [-0.2, 5.2], "nice": false, "zero": false}, "axis": {"values": [0, 1, 2, 3, 4, 5], "title": null}},
     "color": {"field": "s", "type": "nominal", "scale": {"domain": ["High expression", "Middle-high", "Middle-low", "Low expression"], "range": ["#000000", "#00008B", "#1E90FF", "#FF0000"]}, "legend": null}
    }},
   {"data": {"name": "tss"}, "mark": {"type": "rule", "strokeDash": [7, 5], "strokeWidth": 1.3, "color": "black"},
    "encoding": {
     "x": {"field": "tss", "type": "quantitative", "scale": {"domain": [-810, 810], "nice": false, "zero": false}, "axis": {"orient": "top", "labels": false, "ticks": false, "domain": false, "title": "CpG rich", "titleX": 148, "titleY": -16.5, "titleFontSize": 22, "titleFontWeight": "bold", "titleBaseline": "alphabetic", "titleAlign": "center", "titleAngle": 0}},
     "y": {"datum": -0.2, "axis": {"orient": "right", "labels": false, "ticks": false, "domain": false, "title": "c", "titleX": -350, "titleY": -21, "titleFontSize": 28, "titleFontWeight": "normal", "titleBaseline": "alphabetic", "titleAlign": "center", "titleAngle": 0}},
     "y2": {"datum": 5.2}
    }}
  ],
  "resolve": {"axis": {"x": "independent", "y": "independent"}}
 },
 {"width": 296, "height": 242,
  "layer": [
   {"data": {"name": "d"}, "mark": {"type": "line", "strokeWidth": 1.4},
    "encoding": {
     "x": {"field": "x", "type": "quantitative", "scale": {"domain": [-810, 810], "nice": false, "zero": false}, "axis": {"values": [-500, 0, 500], "labelExpr": "'' + datum.value", "title": "Distance from annotated TSS [bp]", "titleX": 148, "titleY": 54.5, "titleBaseline": "alphabetic", "titleAlign": "center"}},
     "y": {"field": "y", "type": "quantitative", "scale": {"domain": [-0.02, 0.52], "nice": false, "zero": false}, "axis": {"values": [0, 0.1, 0.2, 0.3, 0.4, 0.5], "format": ".1f", "title": null}},
     "color": {"field": "s", "type": "nominal", "scale": {"domain": ["High expression", "Middle-high", "Middle-low", "Low expression"], "range": ["#000000", "#00008B", "#1E90FF", "#FF0000"]}, "legend": null}
    }},
   {"data": {"name": "tss"}, "mark": {"type": "rule", "strokeDash": [7, 5], "strokeWidth": 1.3, "color": "black"},
    "encoding": {
     "x": {"field": "tss", "type": "quantitative", "scale": {"domain": [-810, 810], "nice": false, "zero": false}, "axis": {"orient": "top", "labels": false, "ticks": false, "domain": false, "title": "CpG rich", "titleX": 148, "titleY": -16.5, "titleFontSize": 22, "titleFontWeight": "bold", "titleBaseline": "alphabetic", "titleAlign": "center", "titleAngle": 0}},
     "y": {"datum": -0.02, "axis": {"orient": "right", "labels": false, "ticks": false, "domain": false, "title": "d", "titleX": -350, "titleY": -21, "titleFontSize": 28, "titleFontWeight": "normal", "titleBaseline": "alphabetic", "titleAlign": "center", "titleAngle": 0}},
     "y2": {"datum": 0.52}
    }}
  ],
  "resolve": {"axis": {"x": "independent", "y": "independent"}}
 },
 {"width": 296, "height": 242,
  "layer": [
   {"data": {"name": "e"}, "mark": {"type": "line", "strokeWidth": 1.4},
    "encoding": {
     "x": {"field": "x", "type": "quantitative", "scale": {"domain": [-810, 810], "nice": false, "zero": false}, "axis": {"values": [-500, 0, 500], "labelExpr": "'' + datum.value", "title": "Distance from annotated TSS [bp]", "titleX": 148, "titleY": 54.5, "titleBaseline": "alphabetic", "titleAlign": "center"}},
     "y": {"field": "y", "type": "quantitative", "scale": {"domain": [-0.64, 16.64], "nice": false, "zero": false}, "axis": {"values": [0, 5, 10, 15], "title": null}},
     "color": {"field": "s", "type": "nominal", "scale": {"domain": ["High expression", "Middle-high", "Middle-low", "Low expression"], "range": ["#000000", "#00008B", "#1E90FF", "#FF0000"]}, "legend": null}
    }},
   {"data": {"name": "tss"}, "mark": {"type": "rule", "strokeDash": [7, 5], "strokeWidth": 1.3, "color": "black"},
    "encoding": {
     "x": {"field": "tss", "type": "quantitative", "scale": {"domain": [-810, 810], "nice": false, "zero": false}, "axis": {"orient": "top", "labels": false, "ticks": false, "domain": false, "title": "High TATA score", "titleX": 148, "titleY": -15.5, "titleFontSize": 22, "titleFontWeight": "bold", "titleBaseline": "alphabetic", "titleAlign": "center", "titleAngle": 0}},
     "y": {"datum": -0.64, "axis": {"orient": "right", "labels": false, "ticks": false, "domain": false, "title": "e", "titleX": -349, "titleY": -19, "titleFontSize": 28, "titleFontWeight": "normal", "titleBaseline": "alphabetic", "titleAlign": "center", "titleAngle": 0}},
     "y2": {"datum": 16.64}
    }}
  ],
  "resolve": {"axis": {"x": "independent", "y": "independent"}}
 },
 {"width": 296, "height": 242,
  "layer": [
   {"data": {"name": "f"}, "mark": {"type": "line", "strokeWidth": 1.4},
    "encoding": {
     "x": {"field": "x", "type": "quantitative", "scale": {"domain": [-810, 810], "nice": false, "zero": false}, "axis": {"values": [-500, 0, 500], "labelExpr": "'' + datum.value", "title": "Distance from annotated TSS [bp]", "titleX": 148, "titleY": 54.5, "titleBaseline": "alphabetic", "titleAlign": "center"}},
     "y": {"field": "y", "type": "quantitative", "scale": {"domain": [-0.02, 0.522], "nice": false, "zero": false}, "axis": {"values": [0, 0.1, 0.2, 0.3, 0.4, 0.5], "format": ".1f", "title": null}},
     "color": {"field": "s", "type": "nominal", "scale": {"domain": ["High expression", "Middle-high", "Middle-low", "Low expression"], "range": ["#000000", "#00008B", "#1E90FF", "#FF0000"]}, "legend": null}
    }},
   {"data": {"name": "tss"}, "mark": {"type": "rule", "strokeDash": [7, 5], "strokeWidth": 1.3, "color": "black"},
    "encoding": {
     "x": {"field": "tss", "type": "quantitative", "scale": {"domain": [-810, 810], "nice": false, "zero": false}, "axis": {"orient": "top", "labels": false, "ticks": false, "domain": false, "title": "High TATA score", "titleX": 148, "titleY": -15.5, "titleFontSize": 22, "titleFontWeight": "bold", "titleBaseline": "alphabetic", "titleAlign": "center", "titleAngle": 0}},
     "y": {"datum": -0.02, "axis": {"orient": "right", "labels": false, "ticks": false, "domain": false, "title": "f", "titleX": -354, "titleY": -20, "titleFontSize": 28, "titleFontWeight": "normal", "titleBaseline": "alphabetic", "titleAlign": "center", "titleAngle": 0}},
     "y2": {"datum": 0.522}
    }}
  ],
  "resolve": {"axis": {"x": "independent", "y": "independent"}}
 },
 {"width": 296, "height": 242,
  "layer": [
   {"data": {"name": "g"}, "mark": {"type": "line", "strokeWidth": 1.5},
    "encoding": {
     "x": {"field": "x", "type": "quantitative", "scale": {"type": "log", "domain": [0.817, 137], "nice": false}, "axis": {"values": [1, 2, 5, 10, 20, 50, 100], "labelExpr": "'' + datum.value", "title": "PolII signal [a.u.]", "titleX": 148, "titleY": 54.5, "titleBaseline": "alphabetic", "titleAlign": "center"}},
     "y": {"field": "y", "type": "quantitative", "scale": {"domain": [3.0, 11.95], "nice": false, "zero": false}, "axis": {"values": [4, 6, 8, 10], "title": "log₂(mRNA fold-change)", "titleX": -46, "titleY": 121, "titleAngle": -90, "titleBaseline": "alphabetic", "titleAlign": "center"}},
     "color": {"field": "s", "type": "nominal", "scale": {"domain": ["CpG 0-13", "CpG 14-43", "CpG 44-71", "CpG 72-180", "TATA > 2%"], "range": ["#000000", "#FF0000", "#00CD00", "#0000FF", "#00E5EE"]},
      "legend": {"orient": "none", "legendX": 33, "legendY": 10, "title": null, "symbolType": "M-3,0H3", "symbolSize": 107, "symbolStrokeWidth": 3, "labelFontSize": 15.5, "labelOffset": 22, "rowPadding": 3, "padding": 0}},
     "order": {"field": "y", "type": "quantitative"}
    }},
   {"data": {"name": "g"}, "mark": {"type": "point", "filled": true, "opacity": 1, "size": 32},
    "encoding": {
     "x": {"field": "x", "type": "quantitative", "axis": null},
     "y": {"field": "y", "type": "quantitative", "axis": null},
     "color": {"field": "s", "type": "nominal"}
    }},
   {"data": {"name": "gplus"}, "mark": {"type": "point", "shape": "M-1,0H1M0,-1V1", "filled": false, "stroke": "black", "strokeWidth": 1.4, "size": 44, "opacity": 1},
    "encoding": {
     "x": {"field": "x", "type": "quantitative", "axis": {"orient": "top", "labels": false, "ticks": false, "domain": false, "title": ["Relations between PolII", "and expression"], "titleX": 148, "titleY": -42, "titleLineHeight": 26, "titleFontSize": 22, "titleFontWeight": "bold", "titleBaseline": "alphabetic", "titleAlign": "center", "titleAngle": 0}},
     "y": {"field": "y", "type": "quantitative", "axis": {"orient": "right", "labels": false, "ticks": false, "domain": false, "title": "g", "titleX": -348, "titleY": -34, "titleFontSize": 28, "titleFontWeight": "normal", "titleBaseline": "alphabetic", "titleAlign": "center", "titleAngle": 0}}
    }}
  ],
  "resolve": {"axis": {"x": "independent", "y": "independent"}}
 },
 {"width": 296, "height": 242,
  "layer": [
   {"data": {"name": "h"}, "mark": {"type": "line", "strokeWidth": 1.5},
    "encoding": {
     "x": {"field": "x", "type": "quantitative", "scale": {"type": "log", "domain": [0.752, 1292], "nice": false}, "axis": {"values": [1, 10, 100, 1000], "labelExpr": "'' + datum.value", "title": "H3K4me3 signal [a.u.]", "titleX": 148, "titleY": 54.5, "titleBaseline": "alphabetic", "titleAlign": "center"}},
     "y": {"field": "y", "type": "quantitative", "scale": {"domain": [3.0, 11.95], "nice": false, "zero": false}, "axis": {"values": [4, 6, 8, 10], "title": "log₂(mRNA fold-change)", "titleX": -47, "titleY": 121, "titleAngle": -90, "titleBaseline": "alphabetic", "titleAlign": "center"}},
     "color": {"field": "s", "type": "nominal", "scale": {"domain": ["CpG 0-13", "CpG 14-43", "CpG 44-71", "CpG 72-180", "TATA > 2%"], "range": ["#000000", "#FF0000", "#00CD00", "#0000FF", "#00E5EE"]}, "legend": null},
     "order": {"field": "y", "type": "quantitative"}
    }},
   {"data": {"name": "h"}, "mark": {"type": "point", "filled": true, "opacity": 1, "size": 32},
    "encoding": {
     "x": {"field": "x", "type": "quantitative", "axis": null},
     "y": {"field": "y", "type": "quantitative", "axis": null},
     "color": {"field": "s", "type": "nominal", "legend": null}
    }},
   {"data": {"name": "hplus"}, "mark": {"type": "point", "shape": "M-1,0H1M0,-1V1", "filled": false, "stroke": "black", "strokeWidth": 1.4, "size": 44, "opacity": 1},
    "encoding": {
     "x": {"field": "x", "type": "quantitative", "axis": {"orient": "top", "labels": false, "ticks": false, "domain": false, "title": ["Relations between H3K4me3", "and expression"], "titleX": 148, "titleY": -42, "titleLineHeight": 26, "titleFontSize": 22, "titleFontWeight": "bold", "titleBaseline": "alphabetic", "titleAlign": "center", "titleAngle": 0}},
     "y": {"field": "y", "type": "quantitative", "axis": {"orient": "right", "labels": false, "ticks": false, "domain": false, "title": "h", "titleX": -350, "titleY": -33, "titleFontSize": 28, "titleFontWeight": "normal", "titleBaseline": "alphabetic", "titleAlign": "center", "titleAngle": 0}}
    }}
  ],
  "resolve": {"axis": {"x": "independent", "y": "independent"}}
 }
]
}
